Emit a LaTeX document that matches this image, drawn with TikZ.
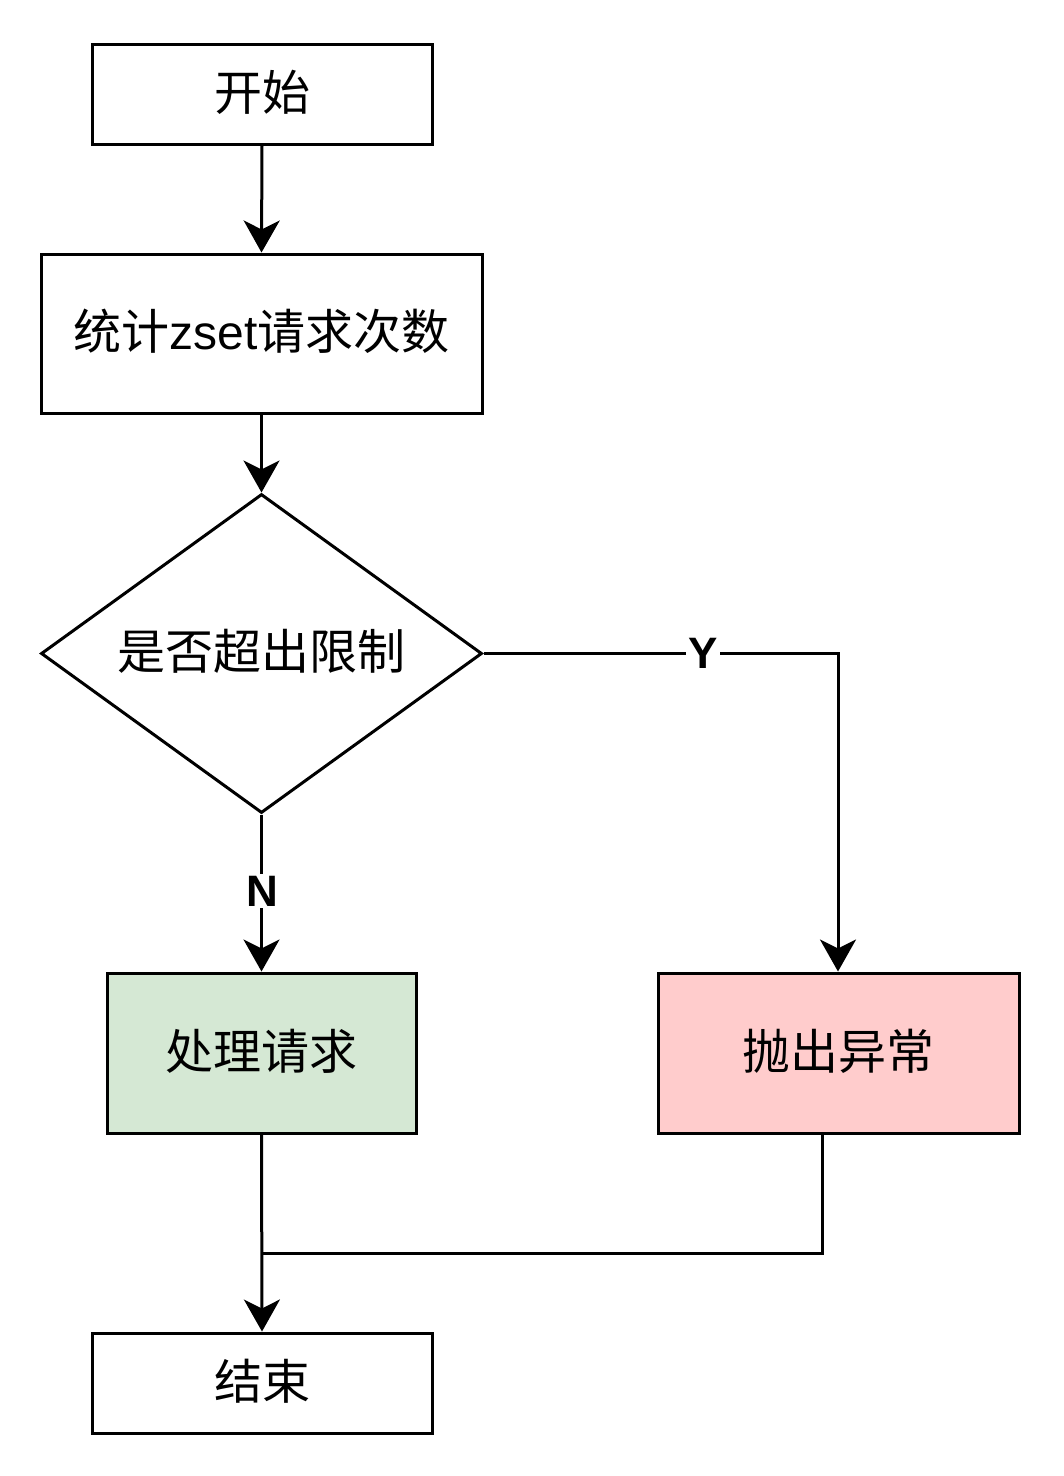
\documentclass[tikz,border=0pt]{standalone}
\usepackage{fontspec}
\setmainfont{Liberation Sans}
\newfontfamily\cjk{Noto Sans CJK SC}
\usetikzlibrary{shapes.geometric,arrows.meta}
\definecolor{gfill}{HTML}{D5E8D4}
\definecolor{rfill}{HTML}{FFCCCC}
\begin{document}
\begin{tikzpicture}[x=1pt,y=-1pt,
  box/.style={draw=black,line width=3pt,minimum width=#1,inner sep=0pt,font=\fontsize{48}{56}\selectfont\cjk},
  box/.default=340pt,
  conn/.style={line width=3pt,-{Stealth[length=32pt,width=36pt,inset=9pt]}},
  plain/.style={line width=3pt},
  lbl/.style={fill=white,inner sep=2pt,font=\fontsize{44}{50}\selectfont\bfseries}]
\useasboundingbox (0,0) rectangle (1064,1476);
\node[box=340pt,minimum height=100pt] (start) at (262,94) {};
\node (starttext) at (262,92) [font=\fontsize{48}{56}\selectfont\cjk] {开始};
\node[box=441pt,minimum height=159pt] (stat) at (261.5,333.5) {};
\node (stattext) at (261.5,331.5) [font=\fontsize{48}{56}\selectfont\cjk] {统计{\rmfamily zset}请求次数};
\node[draw=black,line width=3pt,diamond,minimum width=441pt,minimum height=319pt,inner sep=0pt] (dec) at (261.5,653.5) {};
\node[font=\fontsize{48}{56}\selectfont\cjk] (dectext) at (261.5,651) {是否超出限制};
\node[box=309pt,minimum height=160pt,fill=gfill] (proc) at (261.5,1053) {};
\node (proctext) at (261.5,1051) [font=\fontsize{48}{56}\selectfont\cjk] {处理请求};
\node[box=361pt,minimum height=160pt,fill=rfill] (exc) at (838.5,1053) {};
\node (exctext) at (838.5,1051) [font=\fontsize{48}{56}\selectfont\cjk] {抛出异常};
\node[box=340pt,minimum height=100pt] (end) at (262,1383) {};
\node (endtext) at (262,1381) [font=\fontsize{48}{56}\selectfont\cjk] {结束};
\coordinate (ycorner) at (838,653.5);
\coordinate (merge) at (822,1253);
\coordinate (mergeL) at (262,1253);
\draw[conn] (start.south) -- (stat.north);
\draw[conn] (stat.south) -- (dec.north);
\draw[conn] (dec.east) -- (ycorner) -- (ycorner |- exc.north);
\node[lbl] (ylab) at (703,653.5) {Y};
\draw[conn] (dec.south) -- (proc.north);
\node[lbl] (nlab) at (262,891) {N};
\draw[conn] (proc.south) -- (end.north);
\draw[plain] (exc.south -| merge) -- (merge) -- (mergeL);
\end{tikzpicture}
\end{document}
